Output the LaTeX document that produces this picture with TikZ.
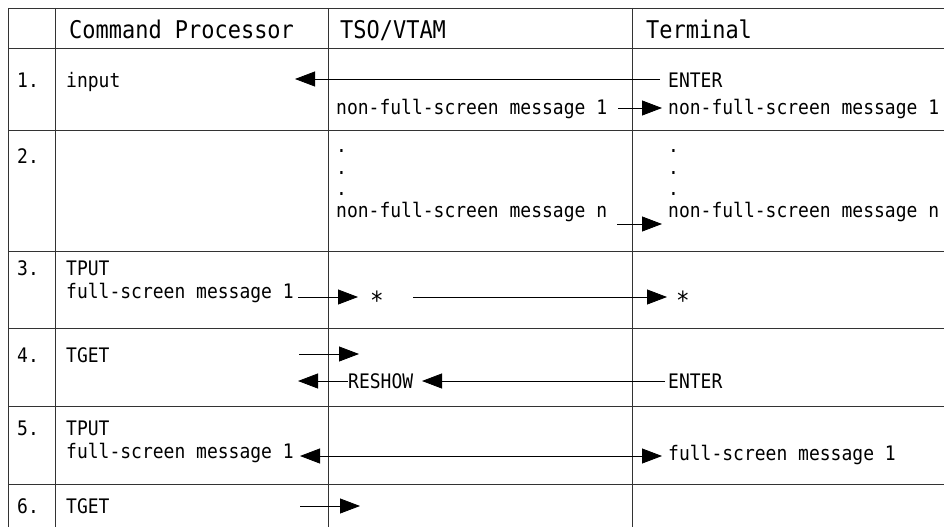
\documentclass[tikz,border=0pt]{standalone}
\usepackage{fontspec}
\usetikzlibrary{arrows.meta}
\newfontfamily\monofam[FakeStretch=0.9]{DejaVu Sans Mono}
\newcommand{\bodyfnt}{\monofam\fontsize{20}{24}\selectfont}
\newcommand{\headfnt}{\monofam\fontsize{24.4}{28}\selectfont}
\newcommand{\starfnt}{\monofam\fontsize{25}{28}\selectfont}
\tikzset{
  grid/.style={draw=black!80, line width=0.9pt},
  txt/.style={anchor=base west, inner sep=0pt, font=\bodyfnt},
  hd/.style={anchor=base west, inner sep=0pt, font=\headfnt},
  starnode/.style={anchor=base, inner sep=0pt, font=\starfnt},
  arr/.style={draw=black, line width=0.8pt, -{Triangle[length=20pt,width=15pt]}},
  darr/.style={draw=black, line width=0.8pt, {Triangle[length=20pt,width=15pt]}-{Triangle[length=20pt,width=15pt]}}
}
\begin{document}
\begin{tikzpicture}[x=1pt,y=-1pt]
\useasboundingbox (0,0) rectangle (944,527);
% grid
\foreach \yy in {8,48,130,251,328,406,484} \draw[grid] (8,\yy) -- (944,\yy);
\foreach \xx in {8,55,328,632} \draw[grid] (\xx,8) -- (\xx,527);
% header
\node[hd] (hcp) at (69,38) {Command Processor};
\node[hd] (htso) at (340,38) {TSO/VTAM};
\node[hd] (hterm) at (646,38) {Terminal};
% row 1
\node[txt] (n1) at (17,87) {1.};
\node[txt] (input) at (66,87) {input};
\node[txt] (enter1) at (668,87) {ENTER};
\node[txt] (nfs1a) at (336,114) {non-full-screen message 1};
\node[txt] (nfs1b) at (668,114) {non-full-screen message 1};
\coordinate (a1s) at (660,79);
\coordinate (a1e) at (295,79);
\draw[arr] (a1s) -- (a1e);
\coordinate (b1s) at (618,108);
\coordinate (b1e) at (662,108);
\draw[arr] (b1s) -- (b1e);
% row 2
\node[txt] (n2) at (17,163) {2.};
\node[txt] (d1a) at (336,152) {.};
\node[txt] (d2a) at (336,174) {.};
\node[txt] (d3a) at (336,195) {.};
\node[txt] (nfsna) at (336,217) {non-full-screen message n};
\node[txt] (d1b) at (668,152) {.};
\node[txt] (d2b) at (668,174) {.};
\node[txt] (d3b) at (668,195) {.};
\node[txt] (nfsnb) at (668,217) {non-full-screen message n};
\coordinate (a2s) at (617,224);
\coordinate (a2e) at (662,224);
\draw[arr] (a2s) -- (a2e);
% row 3
\node[txt] (n3) at (17,275) {3.};
\node[txt] (tput3) at (66,275) {TPUT};
\node[txt] (fsm3) at (66,298) {full-screen message 1};
\node[starnode] (star1) at (377,309) {*};
\node[starnode] (star2) at (683,309) {*};
\coordinate (a3s) at (298,297);
\coordinate (a3e) at (358,297);
\draw[arr] (a3s) -- (a3e);
\coordinate (b3s) at (413,297);
\coordinate (b3e) at (667,297);
\draw[arr] (b3s) -- (b3e);
% row 4
\node[txt] (n4) at (17,362) {4.};
\node[txt] (tget4) at (66,362) {TGET};
\node[txt] (reshow) at (348,388) {RESHOW};
\node[txt] (enter4) at (668,388) {ENTER};
\coordinate (a4s) at (299,354);
\coordinate (a4e) at (359,354);
\draw[arr] (a4s) -- (a4e);
\coordinate (b4s) at (348,381);
\coordinate (b4e) at (298,381);
\draw[arr] (b4s) -- (b4e);
\coordinate (c4s) at (665,381);
\coordinate (c4e) at (422,381);
\draw[arr] (c4s) -- (c4e);
% row 5
\node[txt] (n5) at (17,435) {5.};
\node[txt] (tput5) at (66,435) {TPUT};
\node[txt] (fsm5a) at (66,458) {full-screen message 1};
\node[txt] (fsm5b) at (668,460) {full-screen message 1};
\coordinate (a5s) at (300,456);
\coordinate (a5e) at (662,456);
\draw[darr] (a5s) -- (a5e);
% row 6
\node[txt] (n6) at (17,513) {6.};
\node[txt] (tget6) at (66,513) {TGET};
\coordinate (a6s) at (300,506);
\coordinate (a6e) at (360,506);
\draw[arr] (a6s) -- (a6e);
\end{tikzpicture}
\end{document}
